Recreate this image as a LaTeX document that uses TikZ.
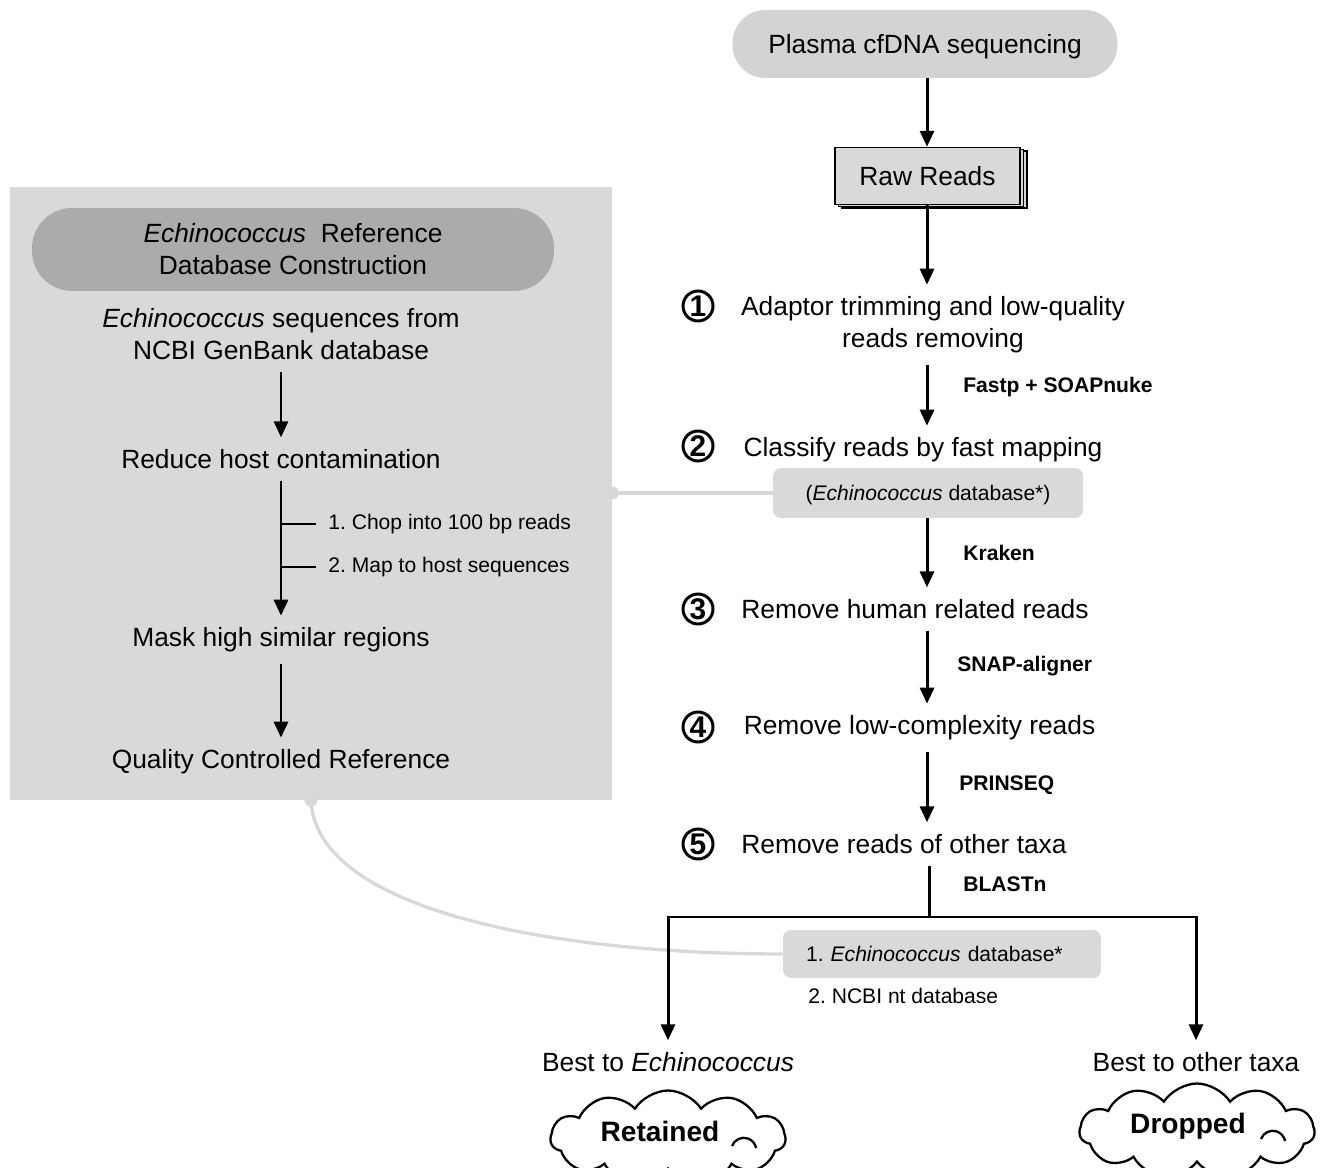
\documentclass[tikz,border=0pt]{standalone}
\usepackage{fontspec}
\setmainfont{Liberation Sans}
\usetikzlibrary{arrows.meta,shapes.symbols,shadows,calc}
\frenchspacing

\definecolor{panelgray}{HTML}{D9D9D9}
\definecolor{pillgray}{HTML}{D3D3D3}
\definecolor{headgray}{HTML}{ABABAB}
\definecolor{linkgray}{HTML}{D8D8D8}

\tikzset{
	flowarrow/.style={line width=1.7pt,-{Triangle[width=0.28cm,length=0.32cm]}},
	flowline/.style={line width=1.7pt},
	steptext/.style={font=\fontsize{15}{18.2}\selectfont,inner sep=0pt,outer sep=0.24cm,align=center},
	stepnum/.style={circle,draw,line width=1.7pt,minimum size=0.6cm,inner sep=0pt,
		font=\fontsize{17}{17}\selectfont\bfseries},
	toollabel/.style={font=\fontsize{12}{14}\selectfont\bfseries,anchor=west,inner sep=0pt},
	smalltext/.style={font=\fontsize{12}{14}\selectfont,anchor=west,inner sep=0pt},
	dbbox/.style={fill=panelgray,rounded corners=0.16cm,font=\fontsize{12}{14}\selectfont},
	link/.style={draw=linkgray,line width=1.9pt},
	resultcloud/.style={cloud,draw,line width=1.3pt,cloud puffs=11,cloud puff arc=115,
		inner sep=0pt,font=\fontsize{16}{18}\selectfont\bfseries}
}

\begin{document}
\begin{tikzpicture}[x=0.02cm,y=-0.02cm]
	\useasboundingbox (0,0) rectangle (1321,1168);
	\clip (0,0) rectangle (1321,1168); % the clouds run out at the bottom
	\coordinate (col) at (927,0);
	
	% Reference database panel
	\node (refpanel) [fill=panelgray,minimum width=12.04cm,minimum height=12.26cm,inner sep=0pt] at (311,493.5) {};
	\node (refhead) [fill=headgray,rounded corners=0.8cm,minimum width=10.44cm,minimum height=1.66cm,
		align=center,font=\fontsize{15}{18.2}\selectfont] at (293,249.5)
		{\textit{Echinococcus}\ \ Reference\\Database Construction};
	\node (seq) [steptext] at (281,334) {\textit{Echinococcus} sequences from\\NCBI GenBank database};
	\node (reduce) [steptext] at (281,459) {Reduce host contamination};
	\node (chop) [smalltext] at (328,524) {1. Chop into 100 bp reads};
	\node (hostmap) [smalltext] at (328,567) {2. Map to host sequences};
	\node (mask) [steptext] at (281,640) {Mask high similar regions};
	\node (qc) [steptext] at (281,762) {Quality Controlled Reference};
	
	\draw [flowarrow] (seq) -- (reduce);
	\draw [flowarrow] (reduce) -- (mask);
	\draw [flowline] ([xshift=-0.24cm]chop.west) -- (chop.west -| reduce.south);
	\draw [flowline] ([xshift=-0.24cm]hostmap.west) -- (hostmap.west -| reduce.south);
	\draw [flowarrow] (mask) -- (qc);
	
	% Main pipeline
	\node (plasma) [fill=pillgray,rounded corners=0.66cm,minimum width=7.7cm,minimum height=1.36cm,
		text depth=0pt,font=\fontsize{15}{18}\selectfont] at (925,44) {Plasma cfDNA sequencing};
	\node (raw) [draw,thick,fill=panelgray,minimum width=3.7cm,minimum height=1.14cm,
		double copy shadow={shadow xshift=0.07cm,shadow yshift=-0.035cm},
		font=\fontsize{15}{18}\selectfont] at (927.5,176) {Raw Reads};
	
	\node (step1) [steptext] at (933,325) {Adaptor trimming and low-quality\\reads removing};
	\node (step2) [steptext] at (923,450) {Classify reads by fast mapping};
	\node (db1) [dbbox,minimum width=6.2cm,minimum height=1cm,text depth=0pt] at (928,493) {(\textit{Echinococcus}\ database*)};
	\node (step3) [steptext] at (915,609) {Remove human related reads};
	\node (step4) [steptext] at (919.5,728) {Remove low-complexity reads};
	\node (step5) [steptext] at (904,844) {Remove reads of other taxa};
	\foreach \n/\y in {1/306,2/446,3/609,4/727,5/844}{% circled step numbers
		\node (num\n) [stepnum] at (698,\y) {\n};
	}
	
	\node (tool1) [toollabel] at (963,387) {Fastp + SOAPnuke};
	\node (tool2) [toollabel] at (963,553) {Kraken};
	\node (tool3) [toollabel] at (957,666) {SNAP-aligner};
	\node (tool4) [toollabel] at (959,785) {PRINSEQ};
	\node (tool5) [toollabel] at (963,884) {BLASTn};
	
	\coordinate (split) at (929,917);
	\node (db2) [dbbox,minimum width=6.36cm,minimum height=0.96cm,inner xsep=0.46cm,text width=5.44cm,
		align=left] at (942,954) {1. \textit{Echinococcus}\ database*};
	\node (ncbi) [smalltext] at (808,996) {2. NCBI nt database};
	\node (best1) [steptext] at (668,1062) {Best to \textit{Echinococcus}};
	\node (best2) [steptext] at (1196,1062) {Best to other taxa};
	
	\node (keep) [resultcloud,minimum width=4.7cm,minimum height=1.9cm] at (668,1138) {};
	\node at (660,1131) [font=\fontsize{16}{18}\selectfont\bfseries] {Retained};
	\node (drop) [resultcloud,minimum width=4.7cm,minimum height=1.9cm] at (1197,1131) {};
	\node at (1188,1126) [font=\fontsize{16}{18}\selectfont\bfseries] {Dropped};
	\draw [line width=1.3pt] ($(keep.center)+(64,8)$) arc [start angle=160,end angle=10,radius=0.25cm];
	\draw [line width=1.3pt] ($(drop.center)+(64,8)$) arc [start angle=160,end angle=10,radius=0.25cm];
	
	% Gray links from the panel to the database boxes
	\draw [link] (refpanel.east |- db1.west) -- (db1.west);
	\fill [linkgray] (refpanel.east |- db1.west) circle (0.13cm);
	\draw [link] (refpanel.south) .. controls +(0.1cm,-2.2cm) and +(-4.6cm,0) .. (db2.west);
	\fill [linkgray] (refpanel.south) circle (0.13cm);
	
	% Arrows of the main pipeline
	\draw [flowarrow] (plasma.south -| col) -- (raw.north -| col);
	\draw [flowarrow] (raw.south -| col) -- (step1.north -| col);
	\draw [flowarrow] (step1.south -| col) -- (step2.north -| col);
	\draw [flowarrow] (db1.south -| col) -- (step3.north -| col);
	\draw [flowarrow] (step3.south -| col) -- (step4.north -| col);
	\draw [flowarrow] (step4.south -| col) -- (step5.north -| col);
	\draw [flowline] (step5.south -| split) -- (split);
	\draw [flowarrow] (split) -| (best1);
	\draw [flowarrow] (split) -| (best2);
\end{tikzpicture}
\end{document}
